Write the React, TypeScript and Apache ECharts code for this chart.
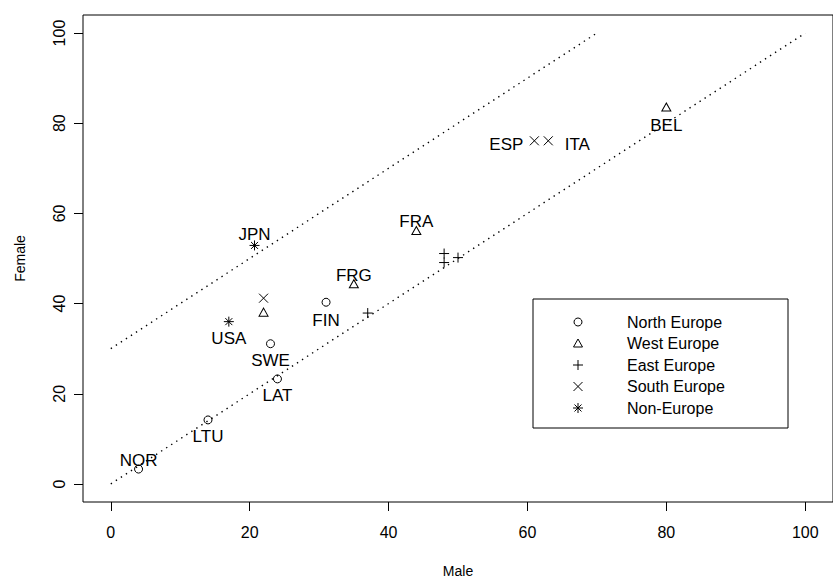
import React, { useEffect, useRef } from "react";
import * as echarts from "echarts";

// ---- data: [label, male, female] ----
const northEurope: [string, number, number][] = [
  ["NOR", 4, 3.3],
  ["LTU", 14, 14.2],
  ["LAT", 24, 23.3],
  ["SWE", 23, 31.1],
  ["FIN", 31, 40.3],
];
const westEurope: [string, number, number][] = [
  ["", 22, 38.1],
  ["FRG", 35, 44.4],
  ["FRA", 44, 56.2],
  ["BEL", 80, 83.6],
];
const eastEurope: [string, number, number][] = [
  ["", 37, 37.9],
  ["", 48, 51.1],
  ["", 48, 49.1],
  ["", 50, 50.2],
];
const southEurope: [string, number, number][] = [
  ["", 22, 41.2],
  ["ESP", 61, 76.1],
  ["ITA", 63, 76.1],
];
const nonEurope: [string, number, number][] = [
  ["USA", 17, 36],
  ["JPN", 20.7, 52.9],
];
const lowerLine: [number, number][] = [
  [0, 0],
  [100, 100],
];
const upperLine: [number, number][] = [
  [0, 30],
  [70, 100],
];
const xTicks = [0, 20, 40, 60, 80, 100];
const yTicks = [0, 20, 40, 60, 80, 100];
const groupNames = ["North Europe", "West Europe", "East Europe", "South Europe", "Non-Europe"];

// ---- styling ----
const FONT = "'Liberation Sans', Arial, sans-serif";
const labelOffsets: Record<string, [number, number]> = {
  NOR: [0, -9],
  LTU: [0, 17],
  LAT: [0, 17],
  SWE: [0, 17],
  FIN: [0, 18],
  USA: [0, 17],
  JPN: [0, -11],
  FRG: [0, -8],
  FRA: [0, -9],
  BEL: [0, 19],
  ESP: [-28, 4],
  ITA: [29, 4],
};
const symbols = [
  { symbol: "path://M5,0A5,5,0,1,1,4.99,0Z", size: 8 },
  { symbol: "path://M5,0L10,9L0,9Z", size: [9, 8] },
  { symbol: "path://M5,0L5,10M0,5L10,5", size: 10 },
  { symbol: "path://M0,0L10,10M10,0L0,10", size: 9 },
  { symbol: "path://M5,0L5,10M0,5L10,5M1.5,1.5L8.5,8.5M8.5,1.5L1.5,8.5", size: 10 },
];

function makeSeries(name: string, rows: [string, number, number][], idx: number) {
  return {
    type: "scatter",
    name,
    symbol: symbols[idx].symbol,
    symbolSize: symbols[idx].size,
    itemStyle: { color: "transparent", borderColor: "#000", borderWidth: 1, opacity: 1 },
    silent: true,
    z: 5,
    data: rows.map(([lab, x, y]) => ({
      value: [x, y],
      name: lab,
      label: {
        show: lab !== "",
        position: "inside",
        offset: labelOffsets[lab] || [0, 0],
        formatter: lab,
        color: "#000",
        fontSize: 17,
        fontFamily: FONT,
      },
    })),
  };
}

function legendGraphics() {
  const cx = 578;
  const rows = [322, 343.5, 365, 386.5, 408];
  const st = { fill: "none", stroke: "#000", lineWidth: 1 };
  const els: any[] = [
    { type: "rect", shape: { x: 533, y: 299, width: 255, height: 129 }, style: { fill: "#fff", stroke: "#000", lineWidth: 1 } },
  ];
  els.push({ type: "circle", shape: { cx, cy: rows[0], r: 4 }, style: st });
  els.push({ type: "polygon", shape: { points: [[cx, rows[1] - 4.5], [cx + 4.5, rows[1] + 3.5], [cx - 4.5, rows[1] + 3.5]] }, style: st });
  els.push({ type: "line", shape: { x1: cx - 5, y1: rows[2], x2: cx + 5, y2: rows[2] }, style: st });
  els.push({ type: "line", shape: { x1: cx, y1: rows[2] - 5, x2: cx, y2: rows[2] + 5 }, style: st });
  els.push({ type: "line", shape: { x1: cx - 4.5, y1: rows[3] - 4.5, x2: cx + 4.5, y2: rows[3] + 4.5 }, style: st });
  els.push({ type: "line", shape: { x1: cx - 4.5, y1: rows[3] + 4.5, x2: cx + 4.5, y2: rows[3] - 4.5 }, style: st });
  els.push({ type: "line", shape: { x1: cx - 5, y1: rows[4], x2: cx + 5, y2: rows[4] }, style: st });
  els.push({ type: "line", shape: { x1: cx, y1: rows[4] - 5, x2: cx, y2: rows[4] + 5 }, style: st });
  els.push({ type: "line", shape: { x1: cx - 3.5, y1: rows[4] - 3.5, x2: cx + 3.5, y2: rows[4] + 3.5 }, style: st });
  els.push({ type: "line", shape: { x1: cx - 3.5, y1: rows[4] + 3.5, x2: cx + 3.5, y2: rows[4] - 3.5 }, style: st });
  groupNames.forEach((n, i) => {
    els.push({
      type: "text",
      x: 627,
      y: rows[i],
      style: { text: n, fontSize: 16, fontFamily: FONT, fill: "#000", align: "left", verticalAlign: "middle" },
    });
  });
  return els;
}

export default function App() {
  const ref = useRef<HTMLDivElement>(null);
  useEffect(() => {
    if (!ref.current) return;
    const chart = echarts.init(ref.current, undefined, { renderer: "svg" });
    const dotted = { color: "#000", width: 1.4, type: [1.4, 4.6] as any, cap: "butt" };
    chart.setOption({
      animation: false,
      backgroundColor: "#fff",
      grid: { left: 83, top: 15, right: -11, bottom: 80, show: true, borderColor: "#000", borderWidth: 1, backgroundColor: "transparent" },
      xAxis: {
        type: "value",
        min: -4,
        max: 104,
        name: "Male",
        nameLocation: "middle",
        nameGap: 62,
        nameTextStyle: { fontSize: 14, fontFamily: FONT, color: "#000" },
        axisLine: { show: false, onZero: false },
        splitLine: { show: false },
        axisTick: { show: true, inside: false, length: 9, lineStyle: { color: "#000" }, customValues: xTicks },
        axisLabel: { customValues: xTicks, margin: 22, fontSize: 16, fontFamily: FONT, color: "#000" },
      },
      yAxis: {
        type: "value",
        min: -4,
        max: 104,
        name: "Female",
        nameLocation: "middle",
        nameGap: 56,
        nameTextStyle: { fontSize: 14, fontFamily: FONT, color: "#000" },
        axisLine: { show: false, onZero: false },
        splitLine: { show: false },
        axisTick: { show: true, inside: false, length: 9, lineStyle: { color: "#000" }, customValues: yTicks },
        axisLabel: { customValues: yTicks, rotate: 90, margin: 16, fontSize: 16, fontFamily: FONT, color: "#000" },
      },
      series: [
        { type: "line", data: lowerLine, symbol: "none", lineStyle: dotted, silent: true, z: 1 },
        { type: "line", data: upperLine, symbol: "none", lineStyle: dotted, silent: true, z: 1 },
        makeSeries(groupNames[0], northEurope, 0),
        makeSeries(groupNames[1], westEurope, 1),
        makeSeries(groupNames[2], eastEurope, 2),
        makeSeries(groupNames[3], southEurope, 3),
        makeSeries(groupNames[4], nonEurope, 4),
      ],
      graphic: legendGraphics(),
    });
    return () => chart.dispose();
  }, []);
  return <div ref={ref} style={{ position: "absolute", left: 0, top: 0, width: 833, height: 583 }} />;
}
